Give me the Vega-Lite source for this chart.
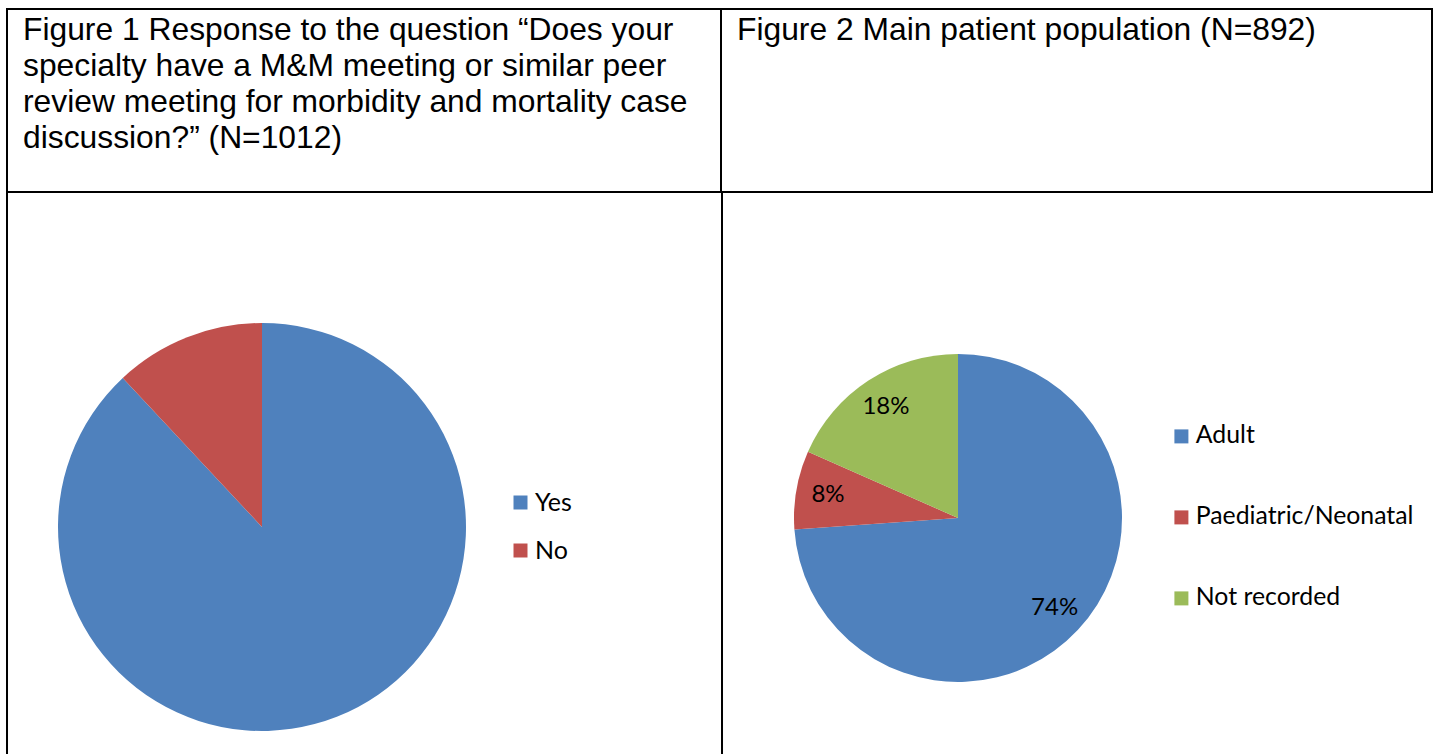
{
  "$schema": "https://vega.github.io/schema/vega-lite/v6.json",
  "background": "white",
  "padding": {"left": 6, "top": 8, "right": 0, "bottom": 0},
  "config": {
    "view": {"stroke": null},
    "legend": {"padding": 0, "labelLimit": 0}
  },
  "spacing": 0,
  "resolve": {"scale": {"color": "independent", "theta": "independent"}, "legend": {"color": "independent"}},
  "vconcat": [
    {
      "spacing": 0,
      "bounds": "flush",
      "hconcat": [
        {
          "width": 714,
          "height": 183,
          "view": {"stroke": "black", "strokeWidth": 2},
          "data": {"values": [{"caption": [
            "Figure 1 Response to the question “Does your",
            "specialty have a M&M meeting or similar peer",
            "review meeting for morbidity and mortality case",
            "discussion?” (N=1012)"
          ]}]},
          "mark": {"type": "text", "align": "left", "baseline": "alphabetic", "font": "Liberation Sans", "fontSize": 31.8, "lineHeight": 36, "color": "black"},
          "encoding": {
            "text": {"field": "caption", "type": "nominal"},
            "x": {"value": 16},
            "y": {"value": 31}
          }
        },
        {
          "width": 711,
          "height": 183,
          "view": {"stroke": "black", "strokeWidth": 2},
          "data": {"values": [{"caption": ["Figure 2 Main patient population (N=892)"]}]},
          "mark": {"type": "text", "align": "left", "baseline": "alphabetic", "font": "Liberation Sans", "fontSize": 31.8, "lineHeight": 36, "color": "black"},
          "encoding": {
            "text": {"field": "caption", "type": "nominal"},
            "x": {"value": 16},
            "y": {"value": 31}
          }
        }
      ]
    },
    {
      "spacing": 0,
      "bounds": "flush",
      "hconcat": [
        {
          "width": 0.01, "height": 127,
          "view": {"stroke": "black", "strokeWidth": 2},
          "data": {"values": [{"cell": "left border"}]},
          "mark": {"type": "text"},
          "encoding": {"text": {"value": ""}}
        },
        {
          "width": 713.98, "height": 127,
          "data": {"values": [{"cell": "empty"}]},
          "mark": {"type": "text"},
          "encoding": {"text": {"value": ""}}
        },
        {
          "width": 0.01, "height": 127,
          "view": {"stroke": "black", "strokeWidth": 2},
          "data": {"values": [{"cell": "middle border"}]},
          "mark": {"type": "text"},
          "encoding": {"text": {"value": ""}}
        }
      ]
    },
    {
      "spacing": 0,
      "bounds": "flush",
      "resolve": {"scale": {"color": "independent", "theta": "independent"}, "legend": {"color": "independent"}},
      "hconcat": [
        {
          "width": 0.01, "height": 430,
          "view": {"stroke": "black", "strokeWidth": 2},
          "data": {"values": [{"cell": "left border"}]},
          "mark": {"type": "text"},
          "encoding": {"text": {"value": ""}}
        },
        {
          "width": 508,
          "height": 408,
          "data": {
            "values": [
              {"answer": "Yes", "respondents": 891, "rank": 1},
              {"answer": "No", "respondents": 121, "rank": 2}
            ]
          },
          "mark": {"type": "arc", "outerRadius": 204},
          "encoding": {
            "theta": {"field": "respondents", "type": "quantitative", "stack": true},
            "order": {"field": "rank", "type": "quantitative"},
            "color": {
              "field": "answer",
              "type": "nominal",
              "scale": {"domain": ["Yes", "No"], "range": ["#4F81BD", "#C0504D"]},
              "legend": {
                "title": null,
                "orient": "none",
                "legendX": 500,
                "legendY": 167,
                "symbolType": "square",
                "symbolSize": 196,
                "symbolStrokeWidth": 0,
                "symbolOpacity": 1,
                "labelFont": "Lato",
                "labelFontSize": 25,
                "labelColor": "black",
                "labelOffset": 2,
                "rowPadding": 22
              }
            }
          }
        },
        {
          "width": 205.98, "height": 10,
          "data": {"values": [{"cell": "empty"}]},
          "mark": {"type": "text"},
          "encoding": {"text": {"value": ""}}
        },
        {
          "width": 0.01, "height": 430,
          "view": {"stroke": "black", "strokeWidth": 2},
          "data": {"values": [{"cell": "middle border"}]},
          "mark": {"type": "text"},
          "encoding": {"text": {"value": ""}}
        },
        {
          "width": 470,
          "height": 390,
          "data": {
            "values": [
              {"population": "Adult", "respondents": 659, "rank": 1, "label": "74%"},
              {"population": "Paediatric/Neonatal", "respondents": 69, "rank": 2, "label": "8%"},
              {"population": "Not recorded", "respondents": 164, "rank": 3, "label": "18%"}
            ]
          },
          "encoding": {
            "theta": {"field": "respondents", "type": "quantitative", "stack": true},
            "order": {"field": "rank", "type": "quantitative"}
          },
          "layer": [
            {
              "mark": {"type": "arc", "outerRadius": 164},
              "encoding": {
                "color": {
                  "field": "population",
                  "type": "nominal",
                  "scale": {"domain": ["Adult", "Paediatric/Neonatal", "Not recorded"], "range": ["#4F81BD", "#C0504D", "#9BBB59"]},
                  "legend": {
                    "title": null,
                    "orient": "none",
                    "legendX": 446,
                    "legendY": 101,
                    "symbolType": "square",
                    "symbolSize": 196,
                    "symbolStrokeWidth": 0,
                    "symbolOpacity": 1,
                    "labelFont": "Lato",
                    "labelFontSize": 24.8,
                    "labelColor": "black",
                    "labelOffset": 2,
                    "rowPadding": 55
                  }
                }
              }
            },
            {
              "mark": {"type": "text", "radius": 132, "font": "Lato", "fontSize": 24, "color": "black"},
              "encoding": {"text": {"field": "label"}}
            }
          ]
        }
      ]
    }
  ]
}
